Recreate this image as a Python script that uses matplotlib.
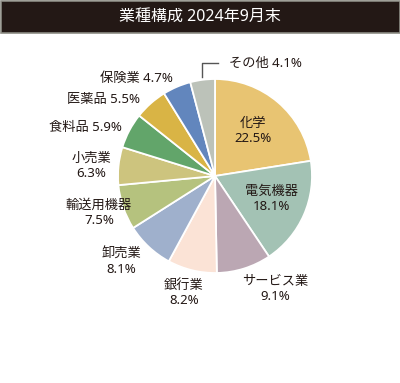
import matplotlib.pyplot as plt
from matplotlib.patches import Rectangle

plt.rcParams['font.family'] = ['Noto Sans', 'Noto Sans CJK JP', 'DejaVu Sans']

# data
sectors = ['化学', '電気機器', 'サービス業', '銀行業', '卸売業', '輸送用機器',
           '小売業', '食料品', '医薬品', '保険業', 'その他']
shares = [22.5, 18.1, 9.1, 8.2, 8.1, 7.5, 6.3, 5.9, 5.5, 4.7, 4.1]
colors = ['#e8c472', '#a3c2b4', '#bba7b3', '#fbe3d6', '#9fb0cc', '#b5c27e',
          '#cdc47e', '#62a56a', '#d9b445', '#6286bd', '#bcc2b9']
title = '業種構成 2024年9月末'

# label layout (pixel coords): x, y, ha, two lines?
label_pos = [
    (253, 131, 'center', True),
    (271, 199, 'center', True),
    (275, 289, 'center', True),
    (184, 293, 'center', True),
    (121, 262, 'center', True),
    (99, 213, 'center', True),
    (91, 166, 'center', True),
    (122, 128, 'right', False),
    (140, 99, 'right', False),
    (100, 78, 'left', False),
    (229, 63, 'left', False),
]

ink = '#231815'

fig = plt.figure(figsize=(4, 3.83), dpi=100)
ax = fig.add_axes([0, 0, 1, 1])

# y axis is flipped (pixel coords), so the pie angles are mirrored too
ax.pie(shares, colors=colors, startangle=-90, counterclock=True,
       center=(215, 176), radius=97, frame=True,
       wedgeprops=dict(edgecolor='white', linewidth=1.3))
ax.set_xlim(0, 400)
ax.set_ylim(383, 0)
ax.set_aspect('equal')
ax.axis('off')

# title bar
ax.add_patch(Rectangle((0.5, 0.5), 399, 32.5, facecolor=ink,
                       edgecolor='#8c8c84', linewidth=1.2))
ax.text(200, 17, title, color='white', fontsize=11.5, ha='center', va='center')

for name, val, (x, y, ha, two) in zip(sectors, shares, label_pos):
    if two:
        s = f'{name}\n{val}%'
    else:
        s = f'{name} {val}%'
    ax.text(x, y, s, ha=ha, va='center', color=ink, fontsize=9.5,
            linespacing=1.25, multialignment='center')

# leader line for その他
ax.plot([202, 202, 218], [77, 63, 63], color='#555555', linewidth=1)

fig.savefig('out.png', dpi=100)
